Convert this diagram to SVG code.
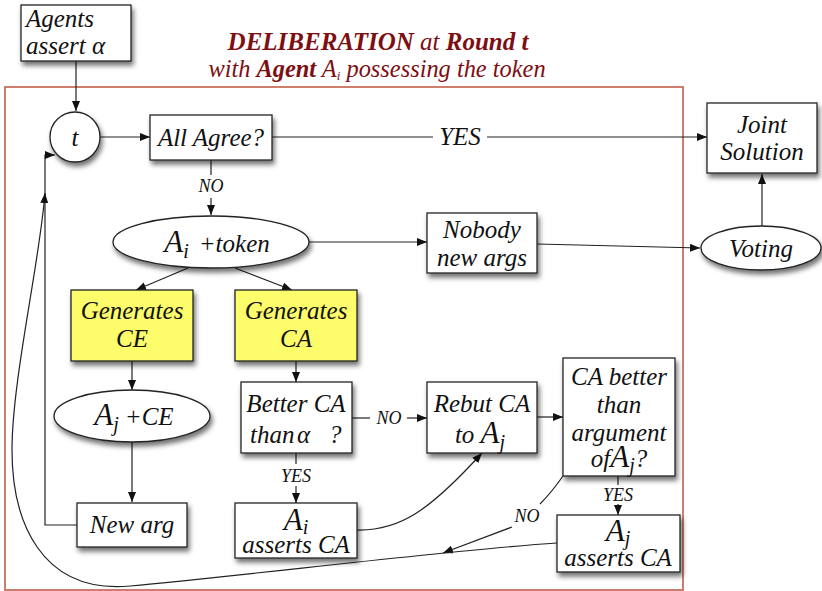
<svg xmlns="http://www.w3.org/2000/svg" width="822" height="591" viewBox="0 0 822 591">
  <defs>
    <filter id="sh" x="-20%" y="-20%" width="150%" height="170%">
      <feDropShadow dx="2" dy="4" stdDeviation="2.5" flood-color="#000" flood-opacity="0.55"/>
    </filter>
    <marker id="ah" viewBox="0 0 10 8" refX="10" refY="4" markerWidth="10" markerHeight="8" markerUnits="userSpaceOnUse" orient="auto">
      <path d="M0,0 L10,4 L0,8 z" fill="#111"/>
    </marker>
  </defs>
  <style>
    .box { fill: #fff; stroke: #222; stroke-width: 1.3; filter: url(#sh); }
    .yel { fill: #fdfc6a; stroke: #222; stroke-width: 1.3; filter: url(#sh); }
    .t { font-family: "Liberation Serif", "Times New Roman", "DejaVu Serif", serif; font-style: italic; font-size: 25px; fill: #111; }
    .lbl { font-family: "Liberation Serif", "Times New Roman", "DejaVu Serif", serif; font-style: italic; font-size: 18px; fill: #111; }
    .big { font-size: 31px; }
    .sub { font-size: 20px; }
    .c { fill: none; stroke: #222; stroke-width: 1.2; }
    .a { marker-end: url(#ah); }
    .ttl { font-family: "Liberation Serif", "Times New Roman", "DejaVu Serif", serif; font-style: italic; fill: #7d0f12; }
  </style>

  <!-- title -->
  <text class="ttl" x="378" y="50" text-anchor="middle" font-size="25"><tspan font-weight="bold">DELIBERATION</tspan> at <tspan font-weight="bold">Round t</tspan></text>
  <text class="ttl" x="377" y="77" text-anchor="middle" font-size="24.4">with <tspan font-weight="bold">Agent</tspan> A<tspan font-size="13" dy="3">i</tspan><tspan dy="-3"> possessing the token</tspan></text>

  <!-- deliberation frame -->
  <rect x="5" y="87" width="678" height="503" fill="none" stroke="#c8705e" stroke-width="1.8"/>

  <!-- connectors -->
  <g id="connectors">
    <path class="c a" d="M76,61 L76,111"/>
    <path class="c a" d="M100,137 L150,137"/>
    <path class="c" d="M272,137 L433,137"/>
    <text class="t" x="460" y="145" text-anchor="middle">YES</text>
    <path class="c a" d="M487,137 L707,137"/>
    <path class="c" d="M211,160 L211,175"/>
    <text class="lbl" x="211" y="192" text-anchor="middle">NO</text>
    <path class="c a" d="M211,198 L211,215"/>
    <path class="c a" d="M309,242 L427,242"/>
    <path class="c a" d="M537,244 L700,248"/>
    <path class="c a" d="M762,226 L762,174"/>
    <path class="c a" d="M188,268 L136,290"/>
    <path class="c a" d="M235,268 L292,290"/>
    <path class="c a" d="M132,361 L132,390"/>
    <path class="c a" d="M132,442 L132,502"/>
    <path class="c a" d="M77,525 L45,525 L45,155 L55,155"/>
    <path class="c a" d="M296,361 L296,382"/>
    <path class="c" d="M352,418 L370,418"/>
    <text class="lbl" x="389" y="424" text-anchor="middle">NO</text>
    <path class="c a" d="M407,418 L427,418"/>
    <path class="c a" d="M537,417 L563,417"/>
    <path class="c" d="M296,453 L296,464"/>
    <text class="lbl" x="296" y="482" text-anchor="middle">YES</text>
    <path class="c a" d="M296,486 L296,503"/>
    <path class="c a" d="M357,530 C400,531 430,510 482,453"/>
    <path class="c" d="M618,476 L618,485"/>
    <text class="lbl" x="618" y="501" text-anchor="middle">YES</text>
    <path class="c a" d="M618,504 L618,515"/>
    <path class="c" d="M563,476 C556,486 548,496 540,504"/>
    <text class="lbl" x="527" y="522" text-anchor="middle">NO</text>
    <path class="c a" d="M512,527 L443,553"/>
    <path class="c a" d="M557,543 C450,550 250,575 130,586 C40,594 12,520 12,450 C12,380 40,260 45,193"/>
  </g>

  <!-- nodes -->
  <g id="agents-assert">
    <rect class="box" x="21" y="5" width="110" height="56"/>
    <text class="t" x="26" y="27">Agents</text>
    <text class="t" x="26" y="54">assert<tspan x="92">α</tspan></text>
  </g>
  <g id="round-t">
    <circle class="box" cx="75" cy="137" r="25"/>
    <text class="t" x="75" y="146" text-anchor="middle">t</text>
  </g>
  <g id="all-agree">
    <rect class="box" x="150" y="115" width="122" height="45"/>
    <text class="t" x="211" y="146" text-anchor="middle">All Agree?</text>
  </g>
  <g id="joint-solution">
    <rect class="box" x="707" y="103" width="110" height="70"/>
    <text class="t" x="762" y="133" text-anchor="middle">Joint</text>
    <text class="t" x="762" y="160" text-anchor="middle">Solution</text>
  </g>
  <g id="ai-token">
    <ellipse class="box" cx="211" cy="242" rx="98" ry="26"/>
    <text class="t" x="217" y="252" text-anchor="middle"><tspan class="big">A</tspan><tspan class="sub" dy="6">i</tspan><tspan dy="-6" dx="10">+token</tspan></text>
  </g>
  <g id="nobody-new-args">
    <rect class="box" x="427" y="213" width="110" height="60"/>
    <text class="t" x="482" y="238" text-anchor="middle">Nobody</text>
    <text class="t" x="482" y="266" text-anchor="middle">new args</text>
  </g>
  <g id="voting">
    <ellipse class="box" cx="761" cy="248" rx="60" ry="22"/>
    <text class="t" x="761" y="257" text-anchor="middle">Voting</text>
  </g>
  <g id="generates-ce">
    <rect class="yel" x="71" y="290" width="122" height="71"/>
    <text class="t" x="132" y="319" text-anchor="middle">Generates</text>
    <text class="t" x="132" y="347" text-anchor="middle">CE</text>
  </g>
  <g id="generates-ca">
    <rect class="yel" x="235" y="290" width="122" height="71"/>
    <text class="t" x="296" y="319" text-anchor="middle">Generates</text>
    <text class="t" x="296" y="347" text-anchor="middle">CA</text>
  </g>
  <g id="aj-ce">
    <ellipse class="box" cx="132" cy="416" rx="78" ry="26"/>
    <text class="t" x="134" y="425" text-anchor="middle"><tspan class="big">A</tspan><tspan class="sub" dy="6">j</tspan><tspan dy="-6" dx="6">+CE</tspan></text>
  </g>
  <g id="new-arg">
    <rect class="box" x="77" y="503" width="110" height="44"/>
    <text class="t" x="132" y="533" text-anchor="middle">New arg</text>
  </g>
  <g id="better-ca">
    <rect class="box" x="241" y="382" width="111" height="71"/>
    <text class="t" x="296" y="412" text-anchor="middle">Better CA</text>
    <text class="t" x="250" y="443">than<tspan x="297">α</tspan><tspan x="329">?</tspan></text>
  </g>
  <g id="rebut-ca">
    <rect class="box" x="427" y="382" width="110" height="71"/>
    <text class="t" x="482" y="412" text-anchor="middle">Rebut CA</text>
    <text class="t" x="480" y="443" text-anchor="middle">to <tspan class="big">A</tspan><tspan class="sub" dy="6">j</tspan></text>
  </g>
  <g id="ca-better">
    <rect class="box" x="563" y="358" width="112" height="118"/>
    <text class="t" x="619" y="385" text-anchor="middle">CA better</text>
    <text class="t" x="619" y="413" text-anchor="middle">than</text>
    <text class="t" x="619" y="441" text-anchor="middle">argument</text>
    <text class="t" x="619" y="467" text-anchor="middle">of<tspan class="big">A</tspan><tspan class="sub" dy="5">j</tspan><tspan dy="-5">?</tspan></text>
  </g>
  <g id="ai-asserts">
    <rect class="box" x="235" y="503" width="122" height="55"/>
    <text class="t" x="296" y="530" text-anchor="middle"><tspan class="big">A</tspan><tspan class="sub" dy="4">i</tspan></text>
    <text class="t" x="296" y="553" text-anchor="middle">asserts CA</text>
  </g>
  <g id="aj-asserts">
    <rect class="box" x="557" y="515" width="123" height="57"/>
    <text class="t" x="618" y="541" text-anchor="middle"><tspan class="big">A</tspan><tspan class="sub" dy="4">j</tspan></text>
    <text class="t" x="618" y="566" text-anchor="middle">asserts CA</text>
  </g>
</svg>
